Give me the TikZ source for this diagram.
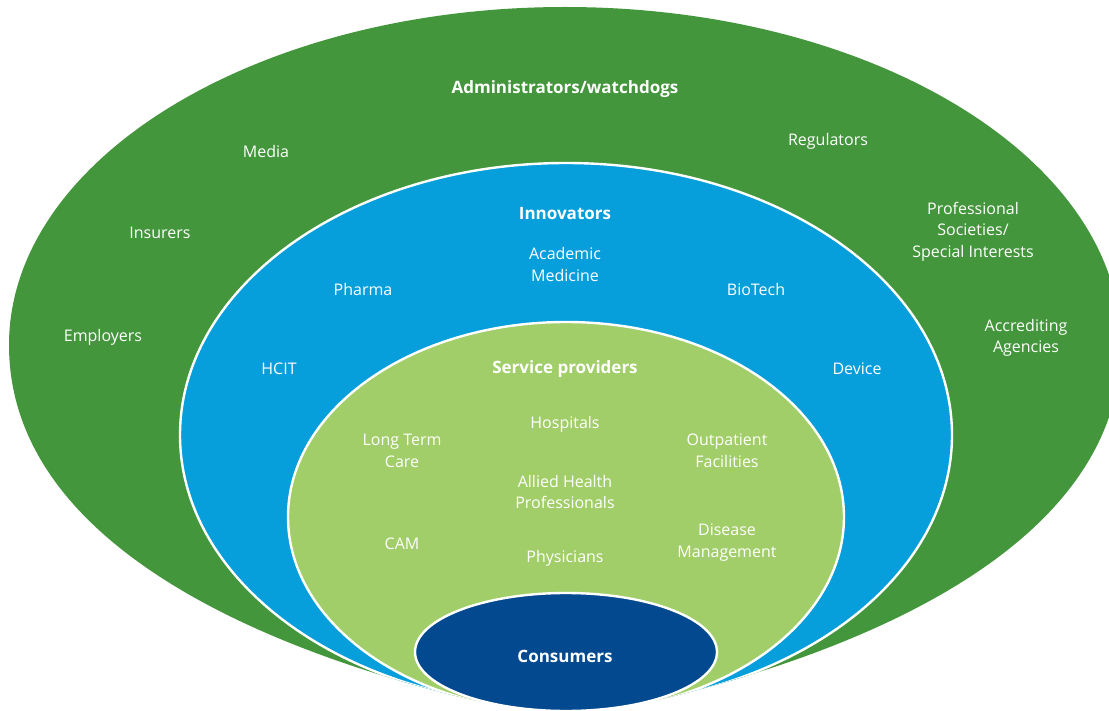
\documentclass[tikz,border=0pt]{standalone}
\usepackage{fontspec}
\setmainfont{Open Sans}
\usepackage{tikz}

\definecolor{outergreen}{RGB}{67,150,59}
\definecolor{innoblue}{RGB}{6,158,219}
\definecolor{servgreen}{RGB}{161,206,105}
\definecolor{consblue}{RGB}{2,73,143}

\newcommand{\outerpath}{(9,345) arc [start angle=180, end angle=360, x radius=556, y radius=338]
    .. controls (1121,530) and (900,640) .. (670,697)
    .. controls (630,707) and (595,708) .. (565,708)
    .. controls (535,708) and (500,707) .. (460,697)
    .. controls (230,640) and (9,530) .. (9,345) -- cycle}

\tikzset{
    lbl/.style={text=white, align=center, inner sep=0pt, yshift=-0.4pt, font=\fontsize{8}{10.8}\selectfont},
    head/.style={lbl, font=\fontsize{8.5}{10.8}\selectfont\bfseries},
    ring/.style={draw=white, line width=1.2pt}
}

\begin{document}
\begin{tikzpicture}[x=0.5pt,y=-0.5pt]
        \useasboundingbox (0,0) rectangle (1109,711);
        % 外圈
        \fill [outergreen] \outerpath;
        \begin{scope}
            \clip \outerpath;
            % 中圈
            \draw [ring, fill=innoblue] (566,435) ellipse [x radius=386, y radius=272];
            % 内圈
            \draw [ring, fill=servgreen] (566,517) ellipse [x radius=278, y radius=195];
        \end{scope}
        % 核心
        \draw [ring, fill=consblue] (566,652) ellipse [x radius=151, y radius=59];
        \node [head] (cons) at(565,656) {Consumers};
        % 管理者
        \node [head] (admin) at(565,88) {Administrators/watchdogs};
        \node [lbl] (media) at(266,151) {Media};
        \node [lbl] (regul) at(828,141) {Regulators};
        \node [lbl] (insur) at(160,232) {Insurers};
        \node [lbl] (profs) at(973,231) {Professional\\Societies/\\Special Interests};
        \node [lbl] (emplo) at(103,337) {Employers};
        \node [lbl] (accre) at(1026,337) {Accrediting\\Agencies};
        % 创新者
        \node [head] (innov) at(565,213) {Innovators};
        \node [lbl] (acad) at(565,264) {Academic\\Medicine};
        \node [lbl] (pharma) at(363,289) {Pharma};
        \node [lbl] (biotech) at(756,289) {BioTech};
        \node [lbl] (hcit) at(279,368) {HCIT};
        \node [lbl] (device) at(857,368) {Device};
        % 服务提供者
        \node [head] (serv) at(565,368) {Service providers};
        \node [lbl] (hosp) at(565,424) {Hospitals};
        \node [lbl] (ltc) at(402,450) {Long Term\\Care};
        \node [lbl] (outp) at(727,450) {Outpatient\\Facilities};
        \node [lbl] (allied) at(565,491) {Allied Health\\Professionals};
        \node [lbl] (cam) at(402,543) {CAM};
        \node [lbl] (phys) at(565,558) {Physicians};
        \node [lbl] (disease) at(727,542) {Disease\\Management};
\end{tikzpicture}
\end{document}
